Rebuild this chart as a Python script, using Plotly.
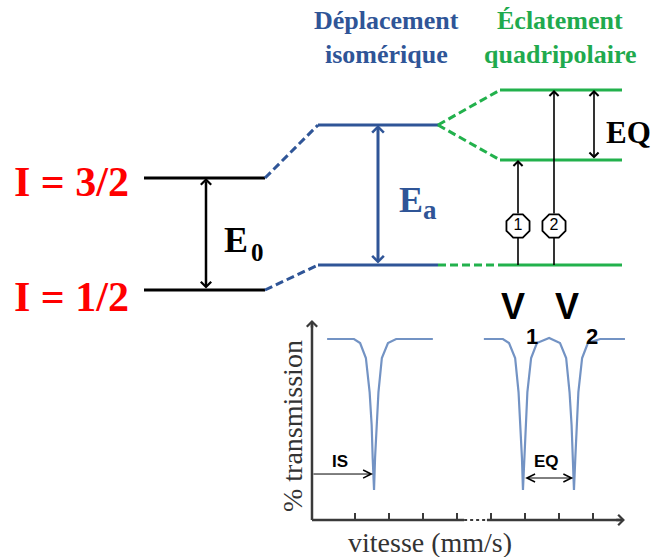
import plotly.graph_objects as go

# ---------------- data ----------------
# nuclear energy levels (arbitrary energy units)
levels_unperturbed = [0, 112]        # I = 1/2, I = 3/2
levels_isomer = [25, 165]            # after isomer shift
levels_quad = [25, 130, 200]         # after quadrupole splitting
level_labels = ["I = 1/2", "I = 3/2"]
stage_x = {"nu": [144, 265], "is": [318, 438], "eq": [500, 622]}
transition_x = [518, 554]
transition_labels = ["1", "2"]
titles_is = ["Déplacement", "isomérique"]
titles_eq = ["Éclatement", "quadripolaire"]

# Mössbauer spectra (velocity, % transmission)
spec1_v = [0.18, 0.97, 1.15, 1.32, 1.43, 1.49, 1.52, 1.56, 1.59, 1.63, 1.69, 1.79, 1.97, 2.21, 3.29]
spec1_t = [100, 100, 97.8, 89.5, 70.7, 52.5, 34.3, 16.6, 34.3, 52.5, 70.7, 89.5, 97.8, 100, 100]
spec2_v = [4.79, 5.35, 5.53, 5.71, 5.81, 5.87, 5.91, 5.94, 5.98, 6.02, 6.07, 6.18, 6.35, 6.71,
           7.03, 7.21, 7.31, 7.37, 7.41, 7.44, 7.48, 7.52, 7.57, 7.68, 7.85, 8.21, 8.94]
spec2_t = [100, 100, 97.8, 89.5, 70.7, 52.5, 34.3, 16.6, 34.3, 52.5, 70.7, 89.5, 97.8, 100.6,
           97.8, 89.5, 70.7, 52.5, 34.3, 16.6, 34.3, 52.5, 70.7, 89.5, 97.8, 100, 100]
tick_v = [1, 2, 3, 4, 5, 6, 7, 8]
axis_v = [-0.265, 8.94]
axis_t_top = 110.5
axis_gap = [4.21, 4.88]

BLACK = "#000000"
BLUE = "#2F5597"
GREEN = "#22B14C"
GREEN_T = "#1FAA4E"
RED = "#FF0000"
SPEC = "#7393C4"
AXC = "#3A3A3A"
SERIF = "Liberation Serif, Times New Roman, serif"
SANS = "Liberation Sans, Arial, sans-serif"

fig = go.Figure()


def seg(x0, y0, x1, y1, color, width=3, dash=None, xa="x", ya="y"):
    fig.add_trace(go.Scatter(x=[x0, x1], y=[y0, y1], mode="lines",
                             line=dict(color=color, width=width, dash=dash),
                             hoverinfo="skip", showlegend=False, xaxis=xa, yaxis=ya))


# levels
for e in levels_unperturbed:
    seg(stage_x["nu"][0], e, stage_x["nu"][1], e, BLACK)
for e in levels_isomer:
    seg(stage_x["is"][0], e, stage_x["is"][1], e, BLUE)
for e in levels_quad:
    seg(stage_x["eq"][0], e, stage_x["eq"][1], e, GREEN)

DASH = "8px,4px"
for a, b in zip(levels_unperturbed, levels_isomer):
    seg(stage_x["nu"][1], a, stage_x["is"][0], b, BLUE, dash=DASH)
seg(stage_x["is"][1], levels_isomer[0], stage_x["eq"][0], levels_quad[0], GREEN, dash=DASH)
for e in levels_quad[1:]:
    seg(stage_x["is"][1], levels_isomer[1], stage_x["eq"][0], e, GREEN, dash=DASH)

ann = []


def arrow(x, y0, y1, color, width, both=True, head=4, size=0.8, xref="x", yref="y", horiz=False):
    if horiz:
        d = dict(x=y1, y=x, ax=y0, ay=x)
    else:
        d = dict(x=x, y=y1, ax=x, ay=y0)
    d.update(xref=xref, yref=yref, axref=xref, ayref=yref, text="", showarrow=True,
             arrowcolor=color, arrowwidth=width, arrowhead=head, arrowsize=size,
             startarrowhead=head, startarrowsize=size,
             arrowside="end+start" if both else "end")
    ann.append(d)


arrow(206, levels_unperturbed[0], levels_unperturbed[1], BLACK, 2.5)
arrow(378, levels_isomer[0], levels_isomer[1], BLUE, 3, size=0.75)
arrow(594, levels_quad[1], levels_quad[2], BLACK, 1.6, size=1.1)

# transitions 1 and 2: stem below the badge as a line, arrow above the badge
BADGE_Y = 64
for tx, top in zip(transition_x, levels_quad[1:]):
    seg(tx, levels_quad[0], tx, BADGE_Y, BLACK, width=1.6)
    arrow(tx, BADGE_Y + 11, top, BLACK, 1.6, both=False, size=1.1)

fig.add_trace(go.Scatter(x=transition_x, y=[BADGE_Y] * len(transition_x), mode="markers+text",
                         marker=dict(symbol="octagon", size=25, color="white",
                                     line=dict(color=BLACK, width=1.8)),
                         text=transition_labels, textposition="middle center",
                         textfont=dict(family=SANS, size=16, color=BLACK),
                         hoverinfo="skip", showlegend=False))


def txt(x, y, s, size, color, family=SERIF, bold=True, xanchor="center", xref="x", yref="y", angle=0):
    ann.append(dict(x=x, y=y, xref=xref, yref=yref, text=f"<b>{s}</b>" if bold else s,
                    showarrow=False, xanchor=xanchor, yanchor="middle", textangle=angle,
                    font=dict(family=family, size=size, color=color)))


# labels
txt(71, levels_unperturbed[1] - 4, level_labels[1], 42, RED)
txt(71, levels_unperturbed[0] - 7, level_labels[0], 42, RED)
txt(386, 270, titles_is[0], 26, BLUE)
txt(386, 236, titles_is[1], 26, BLUE)
txt(560, 270, titles_eq[0], 26, GREEN_T)
txt(560, 236, titles_eq[1], 26, GREEN_T)
txt(236, 50, "E", 36, BLACK)
txt(257, 38, "0", 25, BLACK)
txt(411, 90, "E", 36, BLUE)
txt(430, 80, "a", 27, BLUE)
txt(604, 158, "EQ", 31, BLACK, xanchor="left")
txt(512.5, -16, "V", 36, BLACK, family=SANS)
txt(532, -46, "1", 22, BLACK, family=SANS)
txt(566.5, -16, "V", 36, BLACK, family=SANS)
txt(592, -46, "2", 22, BLACK, family=SANS)

# spectrum
fig.add_trace(go.Scatter(x=spec1_v, y=spec1_t, mode="lines", line=dict(color=SPEC, width=2.2),
                         hoverinfo="skip", showlegend=False, xaxis="x2", yaxis="y2"))
fig.add_trace(go.Scatter(x=spec2_v, y=spec2_t, mode="lines", line=dict(color=SPEC, width=2.2),
                         hoverinfo="skip", showlegend=False, xaxis="x2", yaxis="y2"))

seg(axis_v[0], 0, axis_gap[0], 0, AXC, width=2.5, xa="x2", ya="y2")
seg(axis_gap[0], 0, axis_gap[1], 0, AXC, width=2, dash="dot", xa="x2", ya="y2")
seg(axis_gap[1], 0, axis_v[1] - 0.05, 0, AXC, width=2.5, xa="x2", ya="y2")
seg(axis_v[0], 0, axis_v[0], axis_t_top - 1, AXC, width=2.5, xa="x2", ya="y2")
for t in tick_v:
    seg(t, 0, t, 3.9, AXC, width=2, xa="x2", ya="y2")
arrow(0, axis_v[1] - 0.3, axis_v[1], AXC, 2.5, both=False, size=0.8, xref="x2", yref="y2", horiz=True)
arrow(axis_v[0], axis_t_top - 5, axis_t_top, AXC, 2.5, both=False, size=0.8, xref="x2", yref="y2")

# IS and EQ arrows in spectrum
arrow(25.4, axis_v[0], 1.53, BLACK, 1, both=False, head=5, size=1.6, xref="x2", yref="y2", horiz=True)
arrow(23.2, 5.96, 7.42, BLACK, 1, both=True, head=5, size=1.6, xref="x2", yref="y2", horiz=True)
txt(0.56, 32.5, "IS", 17, BLACK, family=SANS, xref="x2", yref="y2")
txt(6.62, 32.5, "EQ", 17, BLACK, family=SANS, xref="x2", yref="y2")

txt(292, -136, "% transmission", 28, "#333333", bold=False, angle=-90)
txt(430, -252, "vitesse (mm/s)", 28, "#333333", bold=False)

fig.update_layout(
    width=656, height=557, margin=dict(l=0, r=0, t=0, b=0),
    paper_bgcolor="white", plot_bgcolor="white",
    xaxis=dict(range=[0, 656], visible=False, domain=[0, 1]),
    yaxis=dict(range=[-267, 290], visible=False, domain=[0, 1]),
    xaxis2=dict(range=[-0.5, 9.0], visible=False, domain=[304 / 656, 627 / 656], anchor="y2"),
    yaxis2=dict(range=[-5, 115], visible=False, domain=[1 - 529.05 / 557, 1 - 311.85 / 557], anchor="x2"),
    annotations=ann,
    showlegend=False,
)

fig.write_html("out.html", config={"displayModeBar": False},
               post_script="document.body.style.margin='0px';document.body.style.overflow='hidden';")
